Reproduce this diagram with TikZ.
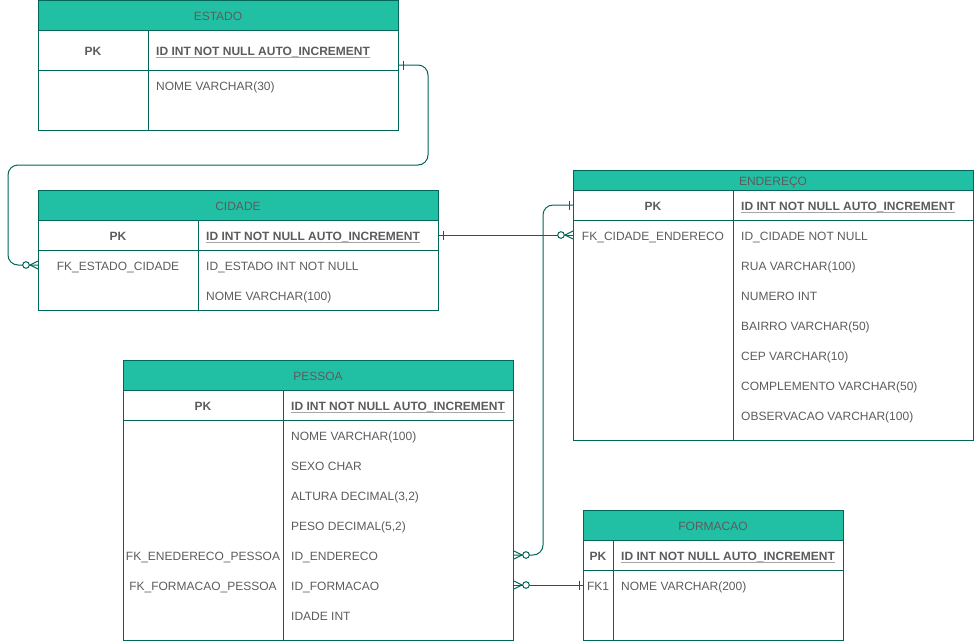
\documentclass[tikz,border=0pt]{standalone}
\usepackage{fontspec}
\setmainfont{Liberation Sans}
\usetikzlibrary{calc}
\definecolor{hdrfill}{HTML}{21C0A5}
\definecolor{edge}{HTML}{006658}
\definecolor{ink}{HTML}{5C5C5C}
\definecolor{ulink}{HTML}{A6A6A6}
\tikzset{
  x=1pt, y=-1pt,
  every node/.style={font=\fontsize{12}{14}\selectfont, text=ink},
  hdr/.style={draw=edge, fill=hdrfill, line width=1pt, inner sep=0pt, text height=10.5pt, text depth=0pt},
  cellbox/.style={draw=edge, line width=1pt, inner sep=0pt, anchor=north west},
  tline/.style={draw=edge, line width=1pt},
  ltxt/.style={anchor=west, inner sep=0pt, text height=10.5pt, text depth=0pt},
  ctxt/.style={anchor=center, inner sep=0pt, text height=10.5pt, text depth=0pt},
  keytxt/.style={ltxt, font=\fontsize{12}{14}\selectfont\bfseries},
  pktxt/.style={ctxt, font=\fontsize{12}{14}\selectfont\bfseries},
  rel/.style={draw=edge, line width=1pt},
  zmany/.pic={
    \draw[rel] (8,0) -- (0,-4) (8,0) -- (0,4);
    \draw[rel, fill=white] (12,0) circle (3.3);
  },
  onebar/.pic={
    \draw[rel] (4,-4.5) -- (4,4.5);
  },
}
% underline for primary key text
\newcommand{\keyline}[1]{\draw[ulink, line width=1pt] ([yshift=-2pt]#1.base west) -- ([yshift=-2pt]#1.base east);}
\begin{document}
\begin{tikzpicture}
\useasboundingbox (0,0) rectangle (974,641);

% ---------------- ESTADO ----------------
\node[hdr, minimum width=360pt, minimum height=30pt] (estado) at (218,15) {ESTADO};
\node[cellbox, minimum width=360pt, minimum height=100pt] (estado-body) at (38,30) {};
\draw[tline] (38,70) -- (398,70) (148,30) -- (148,130);
\node[pktxt] (estado-pk) at (93,50) {PK};
\node[keytxt] (estado-id) at (156,50) {ID INT NOT NULL AUTO\_INCREMENT};
\keyline{estado-id}
\node[ltxt] (estado-nome) at (156,85) {NOME VARCHAR(30)};

% ---------------- CIDADE ----------------
\node[hdr, minimum width=400pt, minimum height=30pt] (cidade) at (238,205) {CIDADE};
\node[cellbox, minimum width=400pt, minimum height=90pt] (cidade-body) at (38,220) {};
\draw[tline] (38,250) -- (438,250) (198,220) -- (198,310);
\node[pktxt] (cidade-pk) at (118,235) {PK};
\node[keytxt] (cidade-id) at (206,235) {ID INT NOT NULL AUTO\_INCREMENT};
\keyline{cidade-id}
\node[ctxt] (cidade-fk) at (118,265) {FK\_ESTADO\_CIDADE};
\node[ltxt] (cidade-estado) at (206,265) {ID\_ESTADO INT NOT NULL};
\node[ltxt] (cidade-nome) at (206,295) {NOME VARCHAR(100)};

% ---------------- ENDEREÇO ----------------
\node[hdr, minimum width=400pt, minimum height=20pt] (endereco) at (773,180) {ENDEREÇO};
\node[cellbox, minimum width=400pt, minimum height=250pt] (endereco-body) at (573,190) {};
\draw[tline] (573,220) -- (973,220) (733,190) -- (733,440);
\node[pktxt] (endereco-pk) at (653,205) {PK};
\node[keytxt] (endereco-id) at (741,205) {ID INT NOT NULL AUTO\_INCREMENT};
\keyline{endereco-id}
\node[ctxt] (endereco-fk) at (653,235) {FK\_CIDADE\_ENDERECO};
\node[ltxt] (endereco-cidade) at (741,235) {ID\_CIDADE NOT NULL};
\node[ltxt] (endereco-rua) at (741,265) {RUA VARCHAR(100)};
\node[ltxt] (endereco-numero) at (741,295) {NUMERO INT};
\node[ltxt] (endereco-bairro) at (741,325) {BAIRRO VARCHAR(50)};
\node[ltxt] (endereco-cep) at (741,355) {CEP VARCHAR(10)};
\node[ltxt] (endereco-compl) at (741,385) {COMPLEMENTO VARCHAR(50)};
\node[ltxt] (endereco-obs) at (741,415) {OBSERVACAO VARCHAR(100)};

% ---------------- PESSOA ----------------
\node[hdr, minimum width=390pt, minimum height=30pt] (pessoa) at (318,375) {PESSOA};
\node[cellbox, minimum width=390pt, minimum height=250pt] (pessoa-body) at (123,390) {};
\draw[tline] (123,420) -- (513,420) (283,390) -- (283,640);
\node[pktxt] (pessoa-pk) at (203,405) {PK};
\node[keytxt] (pessoa-id) at (291,405) {ID INT NOT NULL AUTO\_INCREMENT};
\keyline{pessoa-id}
\node[ltxt] (pessoa-nome) at (291,435) {NOME VARCHAR(100)};
\node[ltxt] (pessoa-sexo) at (291,465) {SEXO CHAR};
\node[ltxt] (pessoa-altura) at (291,495) {ALTURA DECIMAL(3,2)};
\node[ltxt] (pessoa-peso) at (291,525) {PESO DECIMAL(5,2)};
\node[ctxt] (pessoa-fkend) at (203,555) {FK\_ENEDERECO\_PESSOA};
\node[ltxt] (pessoa-endereco) at (291,555) {ID\_ENDERECO};
\node[ctxt] (pessoa-fkform) at (203,585) {FK\_FORMACAO\_PESSOA};
\node[ltxt] (pessoa-formacao) at (291,585) {ID\_FORMACAO};
\node[ltxt] (pessoa-idade) at (291,615) {IDADE INT};

% ---------------- FORMACAO ----------------
\node[hdr, minimum width=260pt, minimum height=30pt] (formacao) at (713,525) {FORMACAO};
\node[cellbox, minimum width=260pt, minimum height=100pt] (formacao-body) at (583,540) {};
\draw[tline] (583,570) -- (843,570) (613,540) -- (613,640);
\node[pktxt] (formacao-pk) at (598,555) {PK};
\node[keytxt] (formacao-id) at (621,555) {ID INT NOT NULL AUTO\_INCREMENT};
\keyline{formacao-id}
\node[ctxt] (formacao-fk) at (598,585) {FK1};
\node[ltxt] (formacao-nome) at (621,585) {NOME VARCHAR(200)};

% ---------------- relationship ports ----------------
\coordinate (p-estado) at (estado-body.east |- 0,65);
\coordinate (p-cidade-fk) at (cidade-body.west |- cidade-fk);
\coordinate (p-cidade-pk) at (cidade-body.east |- cidade-pk);
\coordinate (p-end-fk) at (endereco-body.west |- endereco-fk);
\coordinate (p-end-pk) at (endereco-body.west |- endereco-pk);
\coordinate (p-pes-end) at (pessoa-body.east |- pessoa-endereco);
\coordinate (p-pes-form) at (pessoa-body.east |- pessoa-formacao);
\coordinate (p-form-fk) at (formacao-body.west |- formacao-fk);

% ---------------- relationships ----------------
\draw[rel, rounded corners=10pt] (p-estado) -- (428,65) -- (428,165) -- (8,165) -- (8,265) -- (p-cidade-fk);
\draw[rel] (p-cidade-pk) -- (p-end-fk);
\draw[rel, rounded corners=10pt] (p-end-pk) -- (543,205) -- (543,555) -- (p-pes-end);
\draw[rel] (p-form-fk) -- (p-pes-form);

\path (p-estado) pic {onebar};
\path (p-cidade-fk) pic[xscale=-1] {zmany};
\path (p-cidade-pk) pic {onebar};
\path (p-end-fk) pic[xscale=-1] {zmany};
\path (p-end-pk) pic[xscale=-1] {onebar};
\path (p-pes-end) pic {zmany};
\path (p-form-fk) pic[xscale=-1] {onebar};
\path (p-pes-form) pic {zmany};
\end{tikzpicture}
\end{document}
